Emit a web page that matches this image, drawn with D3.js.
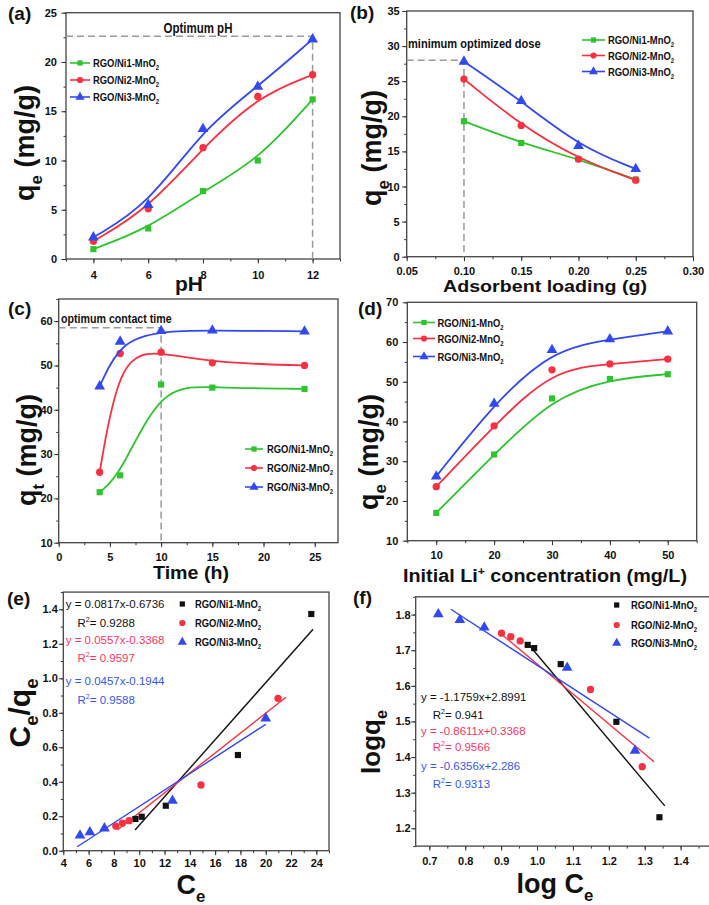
<!DOCTYPE html>
<html><head><meta charset="utf-8">
<script src="https://cdn.jsdelivr.net/npm/d3@7"></script>
<style>
body{margin:0;background:#fff}
text{font-family:"Liberation Sans",Arial,sans-serif}
</style></head>
<body><svg id="c" width="709" height="905"></svg>
<script>
// ---------------- DATA ----------------
const seriesNames = ["RGO/Ni1-MnO", "RGO/Ni2-MnO", "RGO/Ni3-MnO"]; // followed by subscript 2

// (a) effect of pH
const pH = [4, 6, 8, 10, 12];
const pH_Ni1 = [1.0, 3.1, 6.9, 10.0, 16.2];
const pH_Ni2 = [1.8, 5.1, 11.3, 16.5, 18.7];
const pH_Ni3 = [2.2, 5.5, 13.2, 17.5, 22.3];
const optPH = [12, 22.6];

// (b) adsorbent loading
const dose = [0.10, 0.15, 0.20, 0.25];
const dose_Ni1 = [19.3, 16.2, 13.9, 11.0];
const dose_Ni2 = [25.3, 18.7, 13.9, 10.9];
const dose_Ni3 = [27.8, 22.2, 15.8, 12.5];
const optDose = [0.10, 28];

// (c) contact time
const time = [4, 6, 10, 15, 24];
const time_Ni1 = [21.4, 25.2, 45.7, 45.0, 44.7];
const time_Ni2 = [25.9, 52.7, 53.0, 50.6, 50.0];
const time_Ni3 = [45.3, 55.4, 57.8, 57.9, 57.7];
const optTime = [10, 58.5];

// (d) initial concentration
const conc = [10, 20, 30, 40, 50];
const conc_Ni1 = [17.0, 31.7, 45.8, 50.7, 51.9];
const conc_Ni2 = [23.6, 38.9, 53.0, 54.5, 55.7];
const conc_Ni3 = [26.2, 44.5, 58.0, 60.7, 62.7];

// (e) Langmuir
const lang_Ni1_x = [9.7, 10.2, 12.1, 17.8, 23.6];
const lang_Ni1_y = [0.184, 0.197, 0.261, 0.555, 1.373];
const lang_Ni2_x = [8.15, 8.67, 9.2, 14.88, 20.97];
const lang_Ni2_y = [0.143, 0.160, 0.174, 0.381, 0.884];
const lang_Ni3_x = [5.32, 6.1, 7.25, 12.63, 20.0];
const lang_Ni3_y = [0.089, 0.107, 0.130, 0.290, 0.768];
const langFit_x = [[9.67, 23.74], [8.27, 21.6], [5.1, 20.0]];
const langFit_y = [[0.12, 1.284], [0.12, 0.89], [0.023, 0.733]];
const langEq = ["y = 0.0817x-0.6736", "y = 0.0557x-0.3368", "y = 0.0457x-0.1944"];
const langR2 = ["= 0.9288", "= 0.9597", "= 0.9588"];

// (f) Freundlich
const fr_Ni1_x = [0.974, 0.992, 1.066, 1.221, 1.341];
const fr_Ni1_y = [1.715, 1.706, 1.661, 1.499, 1.231];
const fr_Ni2_x = [0.901, 0.927, 0.953, 1.149, 1.293];
const fr_Ni2_y = [1.748, 1.738, 1.726, 1.590, 1.373];
const fr_Ni3_x = [0.725, 0.785, 0.853, 1.084, 1.273];
const fr_Ni3_y = [1.801, 1.785, 1.764, 1.651, 1.418];
const frFit_x = [[0.974, 1.356], [0.901, 1.326], [0.760, 1.313]];
const frFit_y = [[1.719, 1.263], [1.745, 1.387], [1.815, 1.453]];
const frEq = ["y = -1.1759x+2.8991", "y = -0.8611x+0.3368", "y = -0.6356x+2.286"];
const frR2 = ["= 0.941", "= 0.9566", "= 0.9313"];

// tick values
const aX = [4, 6, 8, 10, 12], aY = [0, 5, 10, 15, 20, 25];
const bX = [0.05, 0.10, 0.15, 0.20, 0.25, 0.30], bY = [0, 5, 10, 15, 20, 25, 30, 35];
const cX = [0, 5, 10, 15, 20, 25], cY = [10, 20, 30, 40, 50, 60];
const dX = [10, 20, 30, 40, 50], dY = [10, 20, 30, 40, 50, 60, 70];
const eX = [4, 6, 8, 10, 12, 14, 16, 18, 20, 22, 24], eY = [0.0, 0.2, 0.4, 0.6, 0.8, 1.0, 1.2, 1.4];
const fX = [0.7, 0.8, 0.9, 1.0, 1.1, 1.2, 1.3, 1.4, 1.5], fY = [1.2, 1.3, 1.4, 1.5, 1.6, 1.7, 1.8];

// ---------------- STYLE ----------------
const colors = ["#2ec42e", "#f9303f", "#3349f0"];
const isoColors = ["#111111", "#f9303f", "#3349f0"];
const eqColors = ["#111111", "#ff3560", "#3358ee"];
const symbols = [d3.symbolSquare, d3.symbolCircle, d3.symbolTriangle];
const symSize = [38, 42, 50];
const NARROW = 0.82;

const svg = d3.select("#c");
svg.append("rect").attr("width", 709).attr("height", 905).attr("fill", "#fff");

function rich(sel, parts, fs) {
  let shift = 0;
  parts.forEach(([t, k]) => {
    const ts = sel.append("tspan").text(t);
    const target = k === "sub" ? fs * 0.28 : k === "sup" ? -fs * 0.4 : 0;
    if (target - shift !== 0) ts.attr("dy", target - shift);
    shift = target;
    if (k) ts.attr("font-size", fs * 0.62);
  });
  return sel;
}
// condensed text (reference uses a narrow face)
function narrow(g, x, y) {
  return g.append("text").attr("transform", `translate(${x},${y}) scale(${NARROW},1)`);
}

function panel(o) {
  const g = svg.append("g");
  const x = d3.scaleLinear().domain(o.xd).range([o.l, o.r]);
  const y = d3.scaleLinear().domain(o.yd).range([o.b, o.t]);
  const style = s => {
    s.select(".domain").remove();
    s.selectAll("line").attr("stroke", "#333").attr("stroke-width", 1);
    s.selectAll("text").attr("font-size", 11).attr("font-weight", "bold").attr("fill", "#111")
      .attr("font-family", "'Liberation Sans',Arial,sans-serif");
  };
  g.append("g").attr("transform", `translate(0,${o.b})`)
    .call(d3.axisBottom(x).tickValues(o.xm).tickSize(2.5).tickFormat("")).call(style);
  g.append("g").attr("transform", `translate(${o.l},0)`)
    .call(d3.axisLeft(y).tickValues(o.ym).tickSize(2.5).tickFormat("")).call(style);
  g.append("g").attr("transform", `translate(0,${o.b})`)
    .call(d3.axisBottom(x).tickValues(o.xt).tickSize(4.5).tickPadding(o.xp).tickFormat(o.xf)).call(style);
  g.append("g").attr("transform", `translate(${o.l},0)`)
    .call(d3.axisLeft(y).tickValues(o.yt).tickSize(4.5).tickPadding(o.yp).tickFormat(o.yf)).call(style);
  g.append("rect").attr("x", o.l).attr("y", o.t).attr("width", o.r - o.l).attr("height", o.b - o.t)
    .attr("fill", "none").attr("stroke", "#444").attr("stroke-width", 1.3);
  g.append("text").attr("x", o.lx).attr("y", o.ly).attr("font-size", 19).attr("font-weight", "bold")
    .attr("fill", "#111").text(o.letter);
  const xt = rich(g.append("text").attr("x", o.xtx).attr("y", o.xty).attr("text-anchor", "middle")
    .attr("font-size", o.xfs).attr("font-weight", "bold").attr("fill", "#111"), o.xtitle, o.xfs);
  if (o.xlen) xt.attr("textLength", o.xlen).attr("lengthAdjust", "spacingAndGlyphs");
  rich(g.append("text").attr("transform", `translate(${o.ytx},${o.yty}) rotate(-90)`).attr("text-anchor", "middle")
    .attr("font-size", o.yfs).attr("font-weight", "bold").attr("fill", "#111"), o.ytitle, o.yfs);
  return { g, x, y };
}

function markers(p, xs, ys, i, col) {
  p.g.selectAll(null).data(d3.zip(xs, ys)).join("path")
    .attr("transform", d => `translate(${p.x(d[0])},${p.y(d[1])})`)
    .attr("d", d3.symbol(symbols[i], symSize[i])).attr("fill", col);
}
function curveSeries(p, xs, ys, i) {
  p.g.append("path").attr("d", d3.line().x(d => p.x(d[0])).y(d => p.y(d[1])).curve(d3.curveBasis)(d3.zip(xs, ys)))
    .attr("fill", "none").attr("stroke", colors[i]).attr("stroke-width", 1.8);
  markers(p, xs, ys, i, colors[i]);
}
function fitLine(p, fx, fy, i) {
  p.g.append("line").attr("x1", p.x(fx[0])).attr("x2", p.x(fx[1])).attr("y1", p.y(fy[0])).attr("y2", p.y(fy[1]))
    .attr("stroke", isoColors[i]).attr("stroke-width", 1.4);
}
function legend(p, x0, x1, xt, rows, withLine, cols) {
  rows.forEach((ry, i) => {
    const c = cols[i];
    if (withLine) p.g.append("line").attr("x1", x0).attr("x2", x1).attr("y1", ry).attr("y2", ry)
      .attr("stroke", c).attr("stroke-width", 1.6);
    p.g.append("path").attr("transform", `translate(${(x0 + x1) / 2},${ry})`)
      .attr("d", d3.symbol(symbols[i], symSize[i] * 0.72)).attr("fill", c);
    rich(narrow(p.g, xt, ry + 4).attr("font-size", 11.5).attr("font-weight", "bold").attr("fill", "#111"),
      [[seriesNames[i], ""], ["2", "sub"]], 11.5);
  });
}
function dashed(p, xv, yv) {
  const d = `M${p.x.range()[0]},${p.y(yv)}H${p.x(xv)}V${p.y.range()[0]}`;
  p.g.append("path").attr("d", d).attr("fill", "none").attr("stroke", "#9a9a9a")
    .attr("stroke-width", 1.5).attr("stroke-dasharray", "7,4");
}
function equations(p, xEq, xR, ys, eqs, r2s) {
  eqs.forEach((t, i) => {
    p.g.append("text").attr("x", xEq).attr("y", ys[i][0]).attr("font-size", 11.5).attr("fill", eqColors[i]).text(t);
    rich(p.g.append("text").attr("x", xR).attr("y", ys[i][1]).attr("font-size", 11.5).attr("fill", eqColors[i]),
      [["R", ""], ["2", "sup"], [r2s[i], ""]], 11.5);
  });
}
const qeTitle = [["q", ""], ["e", "sub"], [" (mg/g)", ""]];
const f0 = d3.format("d"), f1 = d3.format(".1f"), f2 = d3.format(".2f");

// ---------------- (a) ----------------
const A = panel({ l: 66, r: 340, t: 12.7, b: 259, xd: [3, 13], yd: [0, 25],
  xt: aX, xm: d3.range(3, 13.01, 1), yt: aY, ym: d3.range(0, 25.01, 2.5), xf: f0, yf: f0, xp: 8, yp: 4.5,
  letter: "(a)", lx: 8, ly: 20, xtitle: [["pH", ""]], xtx: 189, xty: 291, xfs: 20, xlen: 28,
  ytitle: qeTitle, ytx: 34, yty: 143, yfs: 27 });
dashed(A, optPH[0], optPH[1]);
[pH_Ni1, pH_Ni2, pH_Ni3].forEach((s, i) => curveSeries(A, pH, s, i));
legend(A, 70, 90, 93, [63, 80, 97], true, colors);
narrow(A.g, 198, 32.5).attr("text-anchor", "middle").attr("font-size", 14)
  .attr("font-weight", "bold").attr("fill", "#111").text("Optimum pH");

// ---------------- (b) ----------------
const B = panel({ l: 406.7, r: 693, t: 11, b: 256.7, xd: [0.05, 0.30], yd: [0, 35],
  xt: bX, xm: d3.range(0.05, 0.3001, 0.025), yt: bY, ym: d3.range(0, 35.01, 2.5), xf: f2, yf: f0, xp: 6, yp: 2.5,
  letter: "(b)", lx: 350, ly: 19, xtitle: [["Adsorbent loading (g)", ""]], xtx: 545, xty: 292, xfs: 17, xlen: 204,
  ytitle: qeTitle, ytx: 381, yty: 148, yfs: 27 });
dashed(B, optDose[0], optDose[1]);
[dose_Ni1, dose_Ni2, dose_Ni3].forEach((s, i) => curveSeries(B, dose, s, i));
legend(B, 582, 605, 608, [40, 55.5, 71.5], true, colors);
narrow(B.g, 408, 48).attr("font-size", 13.5)
  .attr("font-weight", "bold").attr("fill", "#111").text("minimum optimized dose");

// ---------------- (c) ----------------
const C = panel({ l: 58.7, r: 338, t: 299, b: 542.7, xd: [0, 27.27], yd: [10, 65],
  xt: cX, xm: d3.range(0, 27.3, 2.5), yt: cY, ym: d3.range(10, 65.01, 5), xf: f0, yf: f0, xp: 6.5, yp: 1.5,
  letter: "(c)", lx: 8, ly: 314.5, xtitle: [["Time (h)", ""]], xtx: 191, xty: 579, xfs: 18, xlen: 76,
  ytitle: [["q", ""], ["t", "sub"], [" (mg/g)", ""]], ytx: 36, yty: 450, yfs: 27 });
dashed(C, optTime[0], optTime[1]);
[time_Ni1, time_Ni2, time_Ni3].forEach((s, i) => curveSeries(C, time, s, i));
legend(C, 245, 263, 267, [449, 468, 487], true, colors);
narrow(C.g, 61, 322.5).attr("font-size", 13)
  .attr("font-weight", "bold").attr("fill", "#111").text("optimum contact time");

// ---------------- (d) ----------------
const D = panel({ l: 407.3, r: 696.7, t: 302.3, b: 540.7, xd: [5, 55], yd: [10, 70],
  xt: dX, xm: d3.range(5, 55.01, 5), yt: dY, ym: d3.range(10, 70.01, 5), xf: f0, yf: f0, xp: 6.3, yp: 4.5,
  letter: "(d)", lx: 358, ly: 315,
  xtitle: [["Initial Li", ""], ["+", "sup"], [" concentration (mg/L)", ""]], xtx: 545, xty: 582, xfs: 18, xlen: 284,
  ytitle: qeTitle, ytx: 378, yty: 452, yfs: 27 });
[conc_Ni1, conc_Ni2, conc_Ni3].forEach((s, i) => curveSeries(D, conc, s, i));
legend(D, 413, 435, 437.5, [322.5, 338.5, 356.5], true, colors);

// ---------------- (e) ----------------
const E = panel({ l: 63.3, r: 329, t: 592.1, b: 850.7, xd: [4, 25], yd: [0, 1.5],
  xt: eX, xm: d3.range(4, 25.01, 1), yt: eY, ym: d3.range(0, 1.501, 0.1), xf: f0, yf: f1, xp: 4, yp: 1,
  letter: "(e)", lx: 7, ly: 605, xtitle: [["C", ""], ["e", "sub"]], xtx: 191, xty: 894, xfs: 27,
  ytitle: [["C", ""], ["e", "sub"], ["/q", ""], ["e", "sub"]], ytx: 30, yty: 713, yfs: 30 });
[0, 1, 2].forEach(i => fitLine(E, langFit_x[i], langFit_y[i], i));
[[lang_Ni1_x, lang_Ni1_y], [lang_Ni2_x, lang_Ni2_y], [lang_Ni3_x, lang_Ni3_y]]
  .forEach(([xs, ys], i) => markers(E, xs, ys, i, isoColors[i]));
legend(E, 182.3, 182.3, 195, [604, 623, 642], false, isoColors);
equations(E, 65.7, 77.5, [[608, 626.5], [644, 662], [685, 703.5]], langEq, langR2);

// ---------------- (f) ----------------
const F = panel({ l: 415.7, r: 716.5, t: 596.8, b: 846.1, xd: [0.662, 1.5], yd: [1.15, 1.85],
  xt: fX, xm: d3.range(0.7, 1.501, 0.05), yt: fY, ym: d3.range(1.15, 1.851, 0.05), xf: f1, yf: f1, xp: 7, yp: 0.5,
  letter: "(f)", lx: 353, ly: 604, xtitle: [["log C", ""], ["e", "sub"]], xtx: 555, xty: 893, xfs: 27,
  ytitle: [["logq", ""], ["e", "sub"]], ytx: 380, yty: 742, yfs: 26 });
[0, 1, 2].forEach(i => fitLine(F, frFit_x[i], frFit_y[i], i));
[[fr_Ni1_x, fr_Ni1_y], [fr_Ni2_x, fr_Ni2_y], [fr_Ni3_x, fr_Ni3_y]]
  .forEach(([xs, ys], i) => markers(F, xs, ys, i, isoColors[i]));
legend(F, 616.7, 616.7, 631, [605, 625, 643], false, isoColors);
equations(F, 421, 432.7, [[700.5, 718.5], [734.5, 751], [770, 787.5]], frEq, frR2);
</script></body></html>
